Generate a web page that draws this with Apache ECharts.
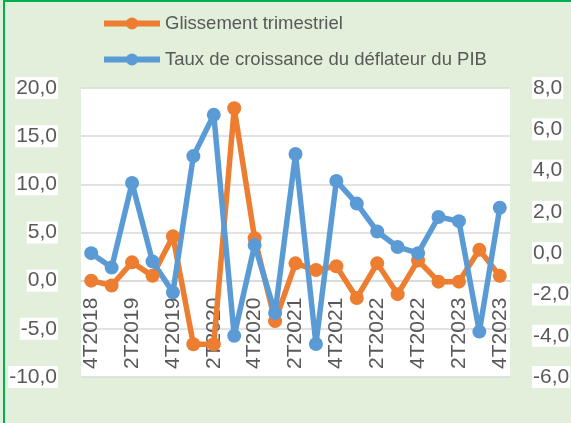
<!DOCTYPE html>
<html lang="fr">
<head>
<meta charset="UTF-8">
<title>Glissement trimestriel / déflateur du PIB</title>
<script src="https://cdn.jsdelivr.net/npm/echarts@6/dist/echarts.min.js"></script>
<style>
    html, body { margin: 0; padding: 0; background: #E2EFDA; }
    #frame {
        position: absolute; left: 0; top: 0;
        width: 571px; height: 423px;
        background: #E2EFDA;
        box-sizing: border-box;
        border-left: 2px solid #00B050;
        border-top: 2px solid #00B050;
        margin-left: 3px;
    }
    #chart { width: 566px; height: 421px; }
</style>
</head>
<body>
<div id="frame"><div id="chart"></div></div>
<script>
    // trimestres 4T2018 -> 4T2023
    var quarters = ['4T2018', '1T2019', '2T2019', '3T2019', '4T2019', '1T2020', '2T2020', '3T2020',
        '4T2020', '1T2021', '2T2021', '3T2021', '4T2021', '1T2022', '2T2022', '3T2022',
        '4T2022', '1T2023', '2T2023', '3T2023', '4T2023'];
    // axe de gauche
    var glissement = [0.0, -0.5, 1.9, 0.5, 4.6, -6.6, -6.6, 17.9, 4.4, -4.2, 1.8, 1.1, 1.5, -1.8,
        1.8, -1.4, 2.1, -0.1, -0.1, 3.2, 0.5];
    // axe de droite
    var deflateur = [0.0, -0.7, 3.4, -0.4, -1.9, 4.7, 6.7, -4.0, 0.4, -2.9, 4.8, -4.4, 3.5, 2.4,
        1.05, 0.3, 0.0, 1.75, 1.55, -3.8, 2.2];

    var fmt = function (v) { return v.toFixed(1).replace('.', ','); };
    var lblStyle = {
        color: '#595959', fontSize: 21, fontFamily: 'Liberation Sans, Arial',
        backgroundColor: '#fff', padding: [1, 1, 0, 1], formatter: fmt
    };

    // plot: top 86, bottom 46 -> move the category labels up to the 0 line of the left axis
    var gridTop = 86, gridBottom = 46, chartH = 421;
    var plotH = chartH - gridTop - gridBottom;
    var zeroShift = plotH * 10 / 30;

    var myChart = echarts.init(document.getElementById('chart'));
    myChart.setOption({
        backgroundColor: '#E2EFDA',
        animation: false,
        legend: {
            orient: 'vertical',
            left: 91, top: 7,
            itemGap: 17,
            itemWidth: 56, itemHeight: 15,
            lineStyle: { width: 6 },
            textStyle: { color: '#595959', fontSize: 18.5, fontFamily: 'Liberation Sans, Arial' },
            data: ['Glissement trimestriel', 'Taux de croissance du déflateur du PIB']
        },
        grid: {
            left: 76, right: 61, top: gridTop, bottom: gridBottom,
            outerBoundsMode: 'none', containLabel: false,
            backgroundColor: '#fff', show: true, borderWidth: 0
        },
        xAxis: {
            type: 'category',
            data: quarters,
            boundaryGap: true,
            offset: -zeroShift,
            axisLine: { onZero: false, lineStyle: { color: '#D9D9D9', width: 1.5 } },
            axisTick: { show: false },
            axisLabel: { interval: 1, rotate: 90, color: '#595959', fontSize: 21, fontFamily: 'Liberation Sans, Arial', margin: 17 }
        },
        yAxis: [{
            type: 'value', min: -10, max: 20, interval: 5,
            axisLabel: Object.assign({ margin: 23 }, lblStyle),
            splitLine: { lineStyle: { color: '#D9D9D9', width: 1.5 } },
            axisLine: { show: false }, axisTick: { show: false }
        }, {
            type: 'value', min: -6, max: 8, interval: 2,
            axisLabel: Object.assign({ margin: 22 }, lblStyle),
            splitLine: { show: false },
            axisLine: { show: false }, axisTick: { show: false }
        }],
        series: [{
            name: 'Glissement trimestriel',
            type: 'line',
            yAxisIndex: 0,
            data: glissement,
            color: '#ED7D31',
            symbol: 'circle', symbolSize: 14, showAllSymbol: true,
            lineStyle: { width: 5.5 }
        }, {
            name: 'Taux de croissance du déflateur du PIB',
            type: 'line',
            yAxisIndex: 1,
            data: deflateur,
            color: '#5B9BD5',
            symbol: 'circle', symbolSize: 14, showAllSymbol: true,
            lineStyle: { width: 5.5 }
        }]
    });
</script>
</body>
</html>
